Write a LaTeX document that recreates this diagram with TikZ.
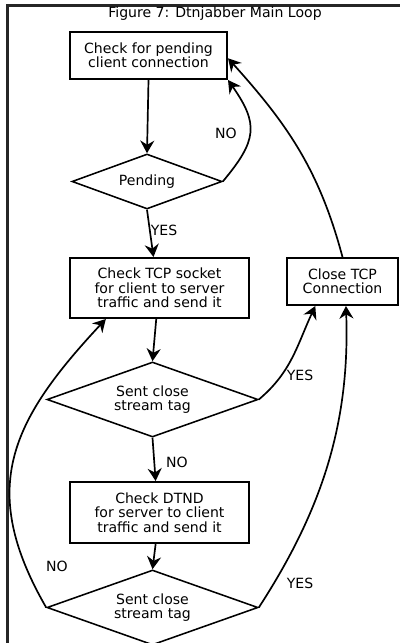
\documentclass[tikz,border=0pt]{standalone}
\usepackage{fontspec}
\setmainfont{DejaVu Sans}
\usetikzlibrary{shapes.geometric, arrows.meta}

\begin{document}
\begin{tikzpicture}[x=0.025cm, y=-0.025cm, font=\fontsize{10}{10.2}\selectfont,
  box/.style={draw, line width=1.4pt, align=center, inner sep=0},
  cond/.style={draw, diamond, aspect=2.8, line width=1.1pt, align=center, inner sep=0, minimum width=5.275cm, minimum height=1.875cm},
  arr/.style={-{Stealth[length=9pt, width=10pt, inset=3pt]}, line width=1.2pt}]
\useasboundingbox (0,0) rectangle (400,643);
\draw[line width=1.5pt, black!85] (400,5.5) -- (7.5,5.5) -- (7.5,650);
\node (ttl) at (215,14) {Figure 7: Dtnjabber Main Loop};
\node[box, minimum width=3.925cm, minimum height=1.175cm] (c1) at (148.5,55.5) {Check for pending\\client connection};
\node[cond, aspect=2.7, minimum width=3.75cm, minimum height=1.375cm] (p1) at (147,181.5) {Pending};
\node[box, minimum width=4.475cm, minimum height=1.5cm] (t1) at (159.5,288) {Check TCP socket\\for client to server\\traffic and send it};
\node[box, minimum width=2.775cm, minimum height=1.175cm] (k1) at (342.5,281.5) {Close TCP\\Connection};
\node[cond] (s1) at (152.5,399.5) {Sent close\\stream tag};
\node[box, minimum width=4.475cm, minimum height=1.525cm] (d1) at (159.5,512.5) {Check DTND\\for server to client\\traffic and send it};
\node[cond] (s2) at (152.5,607.5) {Sent close\\stream tag};
\draw[arr] (c1.south) -- (p1.north);
\draw[arr] (p1.east) to[out=50, in=-55, looseness=1.35] (c1.south east);
\draw[arr] (p1.south) -- (t1.101);
\draw[arr] (k1.north) to[out=105, in=-48] (c1.-2);
\draw[arr] (t1.-96) -- (s1.north);
\draw[arr] (s1.east) to[out=40, in=-115] (k1.-138);
\draw[arr] (s1.south) -- (d1.97);
\draw[arr] (d1.-97) -- (s2.north);
% Back to the top:
\draw[arr] (s2.west) to[out=120, in=-133, looseness=1.2] (t1.-150);
\draw[arr] (s2.east) to[out=57, in=-88, looseness=0.95] (k1.-82);
% Labels:
\node (no1) at (226,133) {NO};
\node (yes1) at (164,230) {YES};
\node (yes2) at (300,375) {YES};
\node (no2) at (177,462) {NO};
\node (no3) at (57,566) {NO};
\node (yes3) at (300,583) {YES};
\end{tikzpicture}
\end{document}
